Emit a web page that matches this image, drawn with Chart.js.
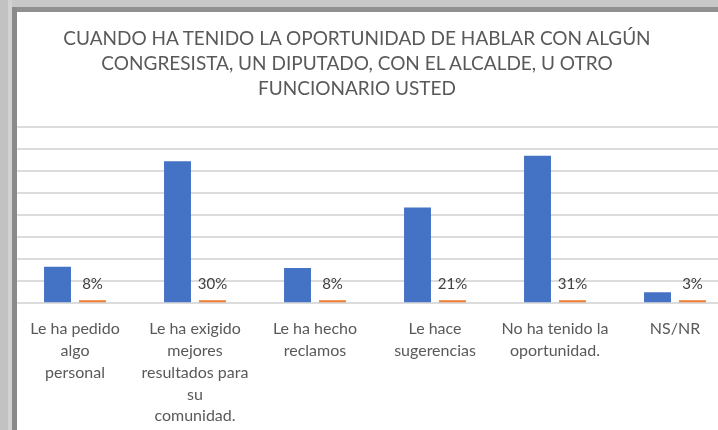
<!DOCTYPE html>
<html>
<head>
<meta charset="utf-8">
<script src="https://cdn.jsdelivr.net/npm/chart.js@4"></script>
<style>
  html, body { margin: 0; padding: 0; background: #fff; overflow: hidden; width: 718px; height: 430px; }
  #wrap { position: absolute; left: 0; top: 0; width: 750px; height: 440px; }
  .frame { position: absolute; z-index: 2; }
  #title {
    position: absolute; z-index: 1; left: 57px; width: 600px; top: 25px;
    text-align: center; font-family: Lato; font-size: 19px; line-height: 25px; color: #595959;
  }
</style>
</head>
<body>
<div id="wrap"><canvas id="chart" width="750" height="440"></canvas></div>
<div id="title">CUANDO HA TENIDO LA OPORTUNIDAD DE HABLAR CON ALGÚN<br>CONGRESISTA, UN DIPUTADO, CON EL ALCALDE, U OTRO<br>FUNCIONARIO USTED</div>
<!-- window frame around the pasted chart -->
<div class="frame" style="left:0;top:0;width:718px;height:7px;background:#c8c8c8"></div>
<div class="frame" style="left:12px;top:7px;width:706px;height:5px;background:#909090"></div>
<div class="frame" style="left:0;top:0;width:8px;height:430px;background:#c2c2c2"></div>
<div class="frame" style="left:8px;top:0;width:4px;height:430px;background:#d2d2d2"></div>
<div class="frame" style="left:12px;top:7px;width:5px;height:423px;background:#8a8a8a"></div>
<script>
const categories = [
  ["Le ha pedido", "algo", "personal"],
  ["Le ha exigido", "mejores", "resultados para", "su", "comunidad."],
  ["Le ha hecho", "reclamos"],
  ["Le hace", "sugerencias"],
  ["No ha tenido la", "oportunidad."],
  ["NS/NR"]
];
const counts = [33, 129, 32, 87, 134, 10];
const percents = [0.08, 0.30, 0.08, 0.21, 0.31, 0.03];

const percentLabels = {
  id: "percentLabels",
  afterDatasetsDraw(chart) {
    const ctx = chart.ctx;
    const meta = chart.getDatasetMeta(1);
    ctx.save();
    ctx.font = "15px Lato";
    ctx.fillStyle = "#404040";
    ctx.textAlign = "center";
    ctx.textBaseline = "middle";
    meta.data.forEach((bar, i) => {
      ctx.fillText(Math.round(percents[i] * 100) + "%", bar.x, bar.y - 16);
    });
    ctx.restore();
  }
};

new Chart(document.getElementById("chart"), {
  type: "bar",
  data: {
    labels: categories,
    datasets: [
      {
        label: "Cantidad",
        data: counts,
        backgroundColor: "#4472c4",
        categoryPercentage: 0.583,
        barPercentage: 0.77
      },
      {
        label: "Porcentaje",
        data: percents,
        backgroundColor: "#ed7d31",
        minBarLength: 3,
        categoryPercentage: 0.583,
        barPercentage: 0.77
      }
    ]
  },
  options: {
    responsive: false,
    animation: false,
    layout: { padding: { left: 15, right: 15, top: 127, bottom: 6 } },
    plugins: {
      legend: { display: false },
      tooltip: { enabled: false },
      title: { display: false }
    },
    scales: {
      x: {
        grid: { display: false },
        border: { display: false },
        ticks: {
          color: "#595959",
          font: { family: "Lato", size: 16, lineHeight: 1.36 },
          maxRotation: 0,
          autoSkip: false,
          padding: 7
        }
      },
      y: {
        min: 0,
        max: 160,
        ticks: { display: false, stepSize: 20 },
        border: { display: false },
        grid: { color: "#dcdcdc", lineWidth: 2, drawTicks: false }
      }
    }
  },
  plugins: [percentLabels]
});
</script>
</body>
</html>
